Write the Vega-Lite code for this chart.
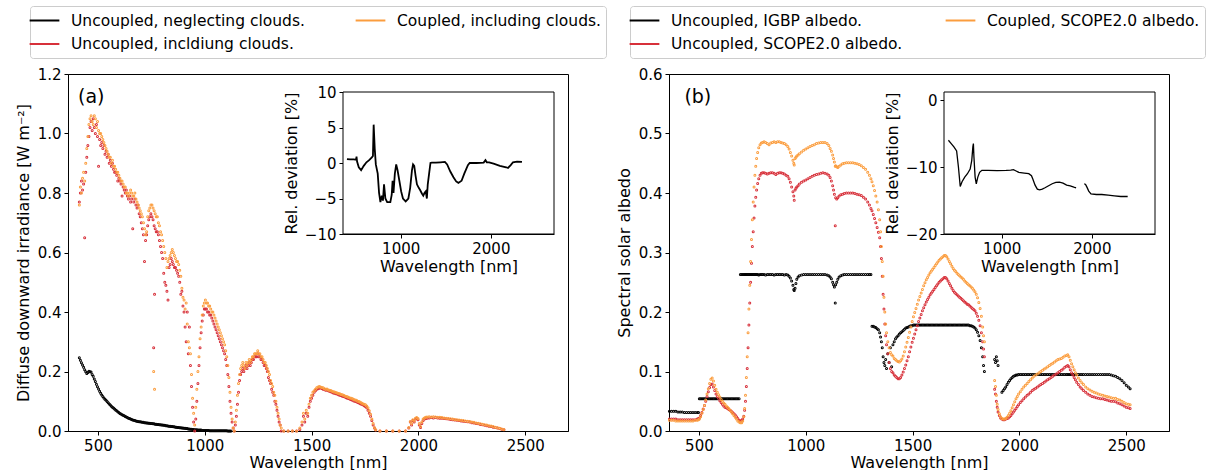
{
"$schema": "https://vega.github.io/schema/vega-lite/v6.json",
"padding": {"left": 14, "top": 5, "right": 0, "bottom": 0},
"config": {
 "font": "DejaVu Sans",
 "view": {"stroke": "#000000", "strokeWidth": 1},
 "axis": {"labelFont": "DejaVu Sans", "labelFontSize": 15, "labelColor": "#000000", "titleFont": "DejaVu Sans", "titleFontSize": 16, "titleFontWeight": "normal", "titleColor": "#000000", "tickColor": "#000000", "domainColor": "#000000", "tickSize": 4, "labelPadding": 3, "grid": false, "labelFlush": false, "labelOverlap": false},
 "legend": {"labelFont": "DejaVu Sans", "labelFontSize": 15.5, "labelColor": "#000000", "labelLimit": 500}
},
"datasets": {
"pa": [
{"w":413,"a":0.246,"b":0.77,"c":0.76},{"w":418,"a":0.238,"b":0.80,"c":0.82},{"w":423,"a":0.229,"b":0.84,"c":0.80},{"w":428,"a":0.222,"b":0.81,"c":0.85},{"w":433,"a":0.214,"b":0.83,"c":0.87},{"w":438,"a":0.206,"b":0.65,"c":0.84},{"w":443,"a":0.199,"b":0.87,"c":0.90},{"w":448,"a":0.193,"b":0.92,"c":0.95},{"w":453,"a":0.197,"b":0.96,"c":0.99},{"w":458,"a":0.201,"b":0.99,"c":1.03},{"w":463,"a":0.199,"b":1.02,"c":1.05},{"w":468,"a":0.198,"b":1.04,"c":1.06},{"w":473,"a":0.19,"b":1.01,"c":1.04},{"w":478,"a":0.184,"b":1.05,"c":1.03},{"w":483,"a":0.175,"b":1.02,"c":1.06},{"w":488,"a":0.166,"b":1.00,"c":1.05},{"w":493,"a":0.157,"b":1.03,"c":1.02},{"w":498,"a":0.149,"b":0.99,"c":1.04},{"w":503,"a":0.141,"b":0.89,"c":1.01},{"w":508,"a":0.134,"b":0.98,"c":1.00},{"w":513,"a":0.127,"b":0.96,"c":1.00},{"w":518,"a":0.121,"b":0.97,"c":0.99},{"w":523,"a":0.116,"b":0.95,"c":0.98},{"w":528,"a":0.111,"b":0.96,"c":0.97},{"w":533,"a":0.107,"b":0.93,"c":0.96},{"w":538,"a":0.103,"b":0.94,"c":0.95},{"w":543,"a":0.099,"b":0.92,"c":0.94},{"w":548,"a":0.095,"b":0.93,"c":0.93},{"w":553,"a":0.091,"b":0.90,"c":0.92},{"w":558,"a":0.087,"b":0.91,"c":0.92},{"w":563,"a":0.083,"b":0.89,"c":0.90},{"w":568,"a":0.08,"b":0.90,"c":0.91},{"w":573,"a":0.077,"b":0.88,"c":0.89},{"w":578,"a":0.074,"b":0.87,"c":0.89},{"w":583,"a":0.071,"b":0.87,"c":0.88},{"w":588,"a":0.068,"b":0.86,"c":0.87},{"w":593,"a":0.065,"b":0.84,"c":0.87},{"w":598,"a":0.062,"b":0.85,"c":0.86},{"w":603,"a":0.059,"b":0.84,"c":0.85},{"w":608,"a":0.057,"b":0.83,"c":0.84},{"w":613,"a":0.055,"b":0.79,"c":0.84},{"w":618,"a":0.053,"b":0.82,"c":0.83},{"w":623,"a":0.051,"b":0.81,"c":0.82},{"w":628,"a":0.049,"b":0.80,"c":0.82},{"w":633,"a":0.047,"b":0.81,"c":0.80},{"w":638,"a":0.045,"b":0.79,"c":0.80},{"w":643,"a":0.043,"b":0.78,"c":0.79},{"w":648,"a":0.042,"b":0.79,"c":0.80},{"w":653,"a":0.04,"b":0.77,"c":0.81},{"w":658,"a":0.039,"b":0.78,"c":0.80},{"w":663,"a":0.037,"b":0.68,"c":0.79},{"w":668,"a":0.036,"b":0.77,"c":0.79},{"w":673,"a":0.035,"b":0.78,"c":0.80},{"w":678,"a":0.034,"b":0.76,"c":0.78},{"w":683,"a":0.033,"b":0.75,"c":0.77},{"w":688,"a":0.032,"b":0.76,"c":0.76},{"w":693,"a":0.031,"b":0.73,"c":0.75},{"w":698,"a":0.031,"b":0.72,"c":0.74},{"w":703,"a":0.030,"b":0.70,"c":0.73},{"w":708,"a":0.029,"b":0.68,"c":0.72},{"w":713,"a":0.029,"b":0.66,"c":0.70},{"w":718,"a":0.028,"b":0.57,"c":0.68},{"w":723,"a":0.028,"b":0.64,"c":0.66},{"w":728,"a":0.027,"b":0.66,"c":0.67},{"w":733,"a":0.027,"b":0.69,"c":0.72},{"w":738,"a":0.026,"b":0.71,"c":0.74},{"w":743,"a":0.026,"b":0.72,"c":0.75},{"w":748,"a":0.025,"b":0.73,"c":0.76},{"w":753,"a":0.025,"b":0.72,"c":0.76},{"w":758,"a":0.024,"b":0.71,"c":0.75},{"w":761,"b":0.28,"c":0.20},{"w":763,"a":0.024,"b":0.69,"c":0.74},{"w":765,"b":0.46,"c":0.14},{"w":768,"a":0.023,"b":0.68,"c":0.73},{"w":773,"a":0.023,"b":0.67,"c":0.72},{"w":778,"a":0.022,"b":0.67,"c":0.72},{"w":783,"a":0.022,"b":0.66,"c":0.70},{"w":788,"a":0.021,"b":0.64,"c":0.69},{"w":793,"a":0.021,"b":0.62,"c":0.67},{"w":798,"a":0.020,"b":0.60,"c":0.66},{"w":803,"a":0.020,"b":0.58,"c":0.64},{"w":808,"a":0.019,"b":0.53,"c":0.62},{"w":813,"a":0.019,"b":0.50,"c":0.60},{"w":818,"a":0.018,"b":0.49,"c":0.58},{"w":823,"a":0.018,"b":0.47,"c":0.55},{"w":828,"a":0.017,"b":0.44,"c":0.57},{"w":833,"a":0.016,"b":0.55,"c":0.58},{"w":838,"a":0.016,"b":0.56,"c":0.59},{"w":843,"a":0.015,"b":0.58,"c":0.60},{"w":848,"a":0.015,"b":0.57,"c":0.61},{"w":853,"a":0.014,"b":0.56,"c":0.60},{"w":858,"a":0.014,"b":0.55,"c":0.59},{"w":863,"a":0.013,"b":0.55,"c":0.58},{"w":868,"a":0.013,"b":0.54,"c":0.57},{"w":873,"a":0.012,"b":0.53,"c":0.57},{"w":878,"a":0.012,"b":0.52,"c":0.56},{"w":883,"a":0.011,"b":0.50,"c":0.54},{"w":888,"a":0.011,"b":0.46,"c":0.52},{"w":893,"a":0.010,"b":0.47,"c":0.48},{"w":898,"a":0.010,"b":0.42,"c":0.45},{"w":903,"a":0.009,"b":0.40,"c":0.44},{"w":908,"a":0.009,"b":0.35,"c":0.41},{"w":913,"a":0.008,"b":0.30,"c":0.43},{"w":918,"a":0.008,"b":0.40,"c":0.36},{"w":923,"a":0.007,"b":0.26,"c":0.30},{"w":928,"a":0.007,"b":0.35,"c":0.28},{"w":933,"a":0.006,"b":0.22,"c":0.26},{"w":938,"a":0.006,"b":0.15,"c":0.19},{"w":943,"a":0.005,"b":0.08,"c":0.11},{"w":948,"a":0.005,"b":0.03,"c":0.06},{"w":953,"a":0.004,"b":0.00,"c":0.02},{"w":958,"a":0.004,"b":0.04,"c":0.08},{"w":963,"a":0.004,"b":0.10,"c":0.14},{"w":968,"a":0.003,"b":0.16,"c":0.20},{"w":973,"a":0.003,"b":0.22,"c":0.25},{"w":978,"a":0.003,"b":0.28,"c":0.31},{"w":983,"a":0.003,"b":0.33,"c":0.35},{"w":988,"a":0.002,"b":0.37,"c":0.39},{"w":993,"a":0.002,"b":0.39,"c":0.42},{"w":998,"a":0.002,"b":0.41,"c":0.43},{"w":1003,"a":0.002,"b":0.41,"c":0.44},{"w":1008,"a":0.002,"b":0.41,"c":0.43},{"w":1013,"a":0.002,"b":0.40,"c":0.43},{"w":1018,"a":0.002,"b":0.40,"c":0.42},{"w":1023,"a":0.001,"b":0.39,"c":0.42},{"w":1028,"a":0.001,"b":0.39,"c":0.41},{"w":1033,"a":0.001,"b":0.38,"c":0.40},{"w":1038,"a":0.001,"b":0.37,"c":0.40},{"w":1043,"a":0.001,"b":0.36,"c":0.39},{"w":1048,"a":0.001,"b":0.35,"c":0.38},{"w":1053,"a":0.001,"b":0.34,"c":0.37},{"w":1058,"a":0.001,"b":0.33,"c":0.36},{"w":1063,"a":0.001,"b":0.32,"c":0.35},{"w":1068,"a":0.001,"b":0.31,"c":0.34},{"w":1073,"a":0.001,"b":0.30,"c":0.33},{"w":1078,"a":0.001,"b":0.29,"c":0.32},{"w":1083,"a":0.001,"b":0.28,"c":0.31},{"w":1088,"a":0.001,"b":0.27,"c":0.30},{"w":1093,"a":0.001,"b":0.26,"c":0.29},{"w":1098,"a":0.001,"b":0.24,"c":0.27},{"w":1103,"a":0.001,"b":0.22,"c":0.25},{"w":1108,"a":0.0,"b":0.19,"c":0.22},{"w":1113,"a":0.0,"b":0.15,"c":0.18},{"w":1118,"a":0.0,"b":0.10,"c":0.13},{"w":1123,"a":0.0,"b":0.06,"c":0.08},{"w":1128,"b":0.03,"c":0.04},{"w":1133,"b":0.01,"c":0.01},{"w":1138,"b":0.00,"c":0.00},{"w":1143,"b":0.02,"c":0.03},{"w":1148,"b":0.05,"c":0.07},{"w":1153,"b":0.09,"c":0.12},{"w":1158,"b":0.13,"c":0.16},{"w":1163,"b":0.17,"c":0.19},{"w":1168,"b":0.19,"c":0.21},{"w":1173,"b":0.20,"c":0.22},{"w":1178,"b":0.21,"c":0.23},{"w":1183,"b":0.20,"c":0.22},{"w":1188,"b":0.21,"c":0.21},{"w":1193,"b":0.22,"c":0.23},{"w":1198,"b":0.21,"c":0.22},{"w":1203,"b":0.22,"c":0.23},{"w":1208,"b":0.23,"c":0.24},{"w":1213,"b":0.22,"c":0.23},{"w":1218,"b":0.23,"c":0.24},{"w":1223,"b":0.24,"c":0.25},{"w":1228,"b":0.24,"c":0.25},{"w":1233,"b":0.25,"c":0.26},{"w":1238,"b":0.25,"c":0.26},{"w":1243,"b":0.25,"c":0.26},{"w":1248,"b":0.26,"c":0.27},{"w":1253,"b":0.25,"c":0.26},{"w":1258,"b":0.25,"c":0.26},{"w":1263,"b":0.24,"c":0.25},{"w":1268,"b":0.24,"c":0.25},{"w":1273,"b":0.23,"c":0.24},{"w":1278,"b":0.22,"c":0.23},{"w":1283,"b":0.22,"c":0.23},{"w":1288,"b":0.21,"c":0.22},{"w":1293,"b":0.20,"c":0.21},{"w":1298,"b":0.18,"c":0.20},{"w":1303,"b":0.17,"c":0.19},{"w":1308,"b":0.16,"c":0.17},{"w":1313,"b":0.14,"c":0.16},{"w":1318,"b":0.13,"c":0.15},{"w":1323,"b":0.12,"c":0.13},{"w":1328,"b":0.10,"c":0.12},{"w":1333,"b":0.09,"c":0.10},{"w":1338,"b":0.07,"c":0.08},{"w":1343,"b":0.05,"c":0.06},{"w":1348,"b":0.03,"c":0.04},{"w":1353,"b":0.02,"c":0.02},{"w":1358,"b":0.00,"c":0.01},{"w":1370,"b":0,"c":0},{"w":1390,"b":0,"c":0},{"w":1410,"b":0,"c":0},{"w":1430,"b":0,"c":0},{"w":1445,"b":0.005,"c":0.01},{"w":1455,"b":0.02,"c":0.03},{"w":1462,"b":0.05,"c":0.06},{"w":1468,"b":0.03,"c":0.04},{"w":1475,"b":0.06,"c":0.07},{"w":1482,"b":0.05,"c":0.06},{"w":1488,"b":0.08,"c":0.09},{"w":1494,"b":0.10,"c":0.11},{"w":1500,"b":0.11,"c":0.12},{"w":1506,"b":0.12,"c":0.13},{"w":1512,"b":0.13,"c":0.135},{"w":1518,"b":0.135,"c":0.14},{"w":1524,"b":0.14,"c":0.145},{"w":1530,"b":0.142,"c":0.148},{"w":1536,"b":0.144,"c":0.15},{"w":1542,"b":0.145,"c":0.148},{"w":1548,"b":0.143,"c":0.146},{"w":1554,"b":0.14,"c":0.145},{"w":1560,"b":0.14,"c":0.142},{"w":1566,"b":0.137,"c":0.14},{"w":1572,"b":0.138,"c":0.141},{"w":1578,"b":0.135,"c":0.138},{"w":1584,"b":0.134,"c":0.137},{"w":1590,"b":0.132,"c":0.136},{"w":1596,"b":0.13,"c":0.134},{"w":1602,"b":0.128,"c":0.132},{"w":1608,"b":0.127,"c":0.131},{"w":1614,"b":0.125,"c":0.129},{"w":1620,"b":0.124,"c":0.128},{"w":1626,"b":0.122,"c":0.126},{"w":1632,"b":0.12,"c":0.125},{"w":1638,"b":0.119,"c":0.123},{"w":1644,"b":0.117,"c":0.122},{"w":1650,"b":0.116,"c":0.12},{"w":1656,"b":0.114,"c":0.118},{"w":1662,"b":0.112,"c":0.116},{"w":1668,"b":0.11,"c":0.115},{"w":1674,"b":0.109,"c":0.113},{"w":1680,"b":0.107,"c":0.111},{"w":1686,"b":0.105,"c":0.11},{"w":1692,"b":0.103,"c":0.108},{"w":1698,"b":0.101,"c":0.106},{"w":1704,"b":0.1,"c":0.104},{"w":1710,"b":0.098,"c":0.103},{"w":1716,"b":0.096,"c":0.1},{"w":1722,"b":0.094,"c":0.099},{"w":1728,"b":0.092,"c":0.097},{"w":1734,"b":0.09,"c":0.094},{"w":1740,"b":0.088,"c":0.092},{"w":1746,"b":0.085,"c":0.09},{"w":1752,"b":0.082,"c":0.088},{"w":1758,"b":0.078,"c":0.084},{"w":1764,"b":0.07,"c":0.078},{"w":1770,"b":0.06,"c":0.068},{"w":1776,"b":0.05,"c":0.056},{"w":1782,"b":0.035,"c":0.04},{"w":1788,"b":0.02,"c":0.025},{"w":1794,"b":0.01,"c":0.012},{"w":1800,"b":0.003,"c":0.004},{"w":1820,"b":0,"c":0},{"w":1850,"b":0,"c":0},{"w":1880,"b":0,"c":0},{"w":1910,"b":0,"c":0},{"w":1940,"b":0,"c":0},{"w":1955,"b":0.01,"c":0.012},{"w":1962,"b":0.03,"c":0.032},{"w":1968,"b":0.02,"c":0.025},{"w":1974,"b":0.035,"c":0.038},{"w":1980,"b":0.03,"c":0.034},{"w":1986,"b":0.04,"c":0.043},{"w":1992,"b":0.042,"c":0.045},{"w":1998,"b":0.038,"c":0.042},{"w":2004,"b":0.02,"c":0.025},{"w":2010,"b":0.012,"c":0.015},{"w":2016,"b":0.025,"c":0.03},{"w":2022,"b":0.035,"c":0.04},{"w":2028,"b":0.04,"c":0.044},{"w":2034,"b":0.042,"c":0.046},{"w":2040,"b":0.043,"c":0.047},{"w":2050,"b":0.044,"c":0.048},{"w":2060,"b":0.045,"c":0.047},{"w":2070,"b":0.044,"c":0.048},{"w":2080,"b":0.045,"c":0.047},{"w":2090,"b":0.044,"c":0.046},{"w":2100,"b":0.043,"c":0.046},{"w":2110,"b":0.043,"c":0.045},{"w":2120,"b":0.042,"c":0.044},{"w":2130,"b":0.041,"c":0.043},{"w":2140,"b":0.04,"c":0.042},{"w":2150,"b":0.039,"c":0.041},{"w":2160,"b":0.038,"c":0.04},{"w":2170,"b":0.037,"c":0.039},{"w":2180,"b":0.036,"c":0.038},{"w":2190,"b":0.035,"c":0.037},{"w":2200,"b":0.034,"c":0.036},{"w":2210,"b":0.033,"c":0.035},{"w":2220,"b":0.032,"c":0.034},{"w":2230,"b":0.031,"c":0.033},{"w":2240,"b":0.03,"c":0.032},{"w":2250,"b":0.028,"c":0.03},{"w":2260,"b":0.027,"c":0.029},{"w":2270,"b":0.025,"c":0.027},{"w":2280,"b":0.024,"c":0.026},{"w":2290,"b":0.022,"c":0.024},{"w":2300,"b":0.021,"c":0.023},{"w":2310,"b":0.019,"c":0.021},{"w":2320,"b":0.018,"c":0.02},{"w":2330,"b":0.016,"c":0.018},{"w":2340,"b":0.015,"c":0.017},{"w":2350,"b":0.013,"c":0.015},{"w":2360,"b":0.012,"c":0.013},{"w":2370,"b":0.01,"c":0.011},{"w":2380,"b":0.008,"c":0.009},{"w":2390,"b":0.006,"c":0.007},{"w":2400,"b":0.004,"c":0.005}
],
"pb": [
{"w":362,"a":0.033,"b":0.020,"c":0.018},{"w":372,"a":0.033,"b":0.020,"c":0.018},{"w":382,"a":0.033,"b":0.020,"c":0.018},{"w":392,"a":0.033,"b":0.020,"c":0.017},{"w":402,"a":0.032,"b":0.019,"c":0.017},{"w":412,"a":0.032,"b":0.019,"c":0.017},{"w":422,"a":0.032,"b":0.019,"c":0.017},{"w":432,"a":0.031,"b":0.019,"c":0.017},{"w":442,"a":0.031,"b":0.019,"c":0.017},{"w":452,"a":0.031,"b":0.019,"c":0.017},{"w":462,"a":0.031,"b":0.019,"c":0.017},{"w":472,"a":0.031,"b":0.019,"c":0.017},{"w":482,"a":0.031,"b":0.019,"c":0.018},{"w":492,"a":0.031,"b":0.020,"c":0.018},{"w":498,"a":0.031,"b":0.021,"c":0.019},
{"w":502,"a":0.054,"b":0.022,"c":0.020},{"w":508,"a":0.054,"b":0.026,"c":0.024},{"w":514,"a":0.054,"b":0.031,"c":0.030},{"w":520,"a":0.054,"b":0.037,"c":0.036},{"w":526,"a":0.054,"b":0.043,"c":0.043},{"w":532,"a":0.054,"b":0.050,"c":0.052},{"w":538,"a":0.054,"b":0.058,"c":0.062},{"w":544,"a":0.054,"b":0.066,"c":0.071},{"w":550,"a":0.054,"b":0.073,"c":0.080},{"w":556,"a":0.054,"b":0.078,"c":0.087},{"w":562,"a":0.054,"b":0.079,"c":0.089},{"w":568,"a":0.054,"b":0.074,"c":0.084},{"w":574,"a":0.054,"b":0.068,"c":0.077},{"w":580,"a":0.054,"b":0.062,"c":0.070},{"w":586,"a":0.054,"b":0.058,"c":0.065},{"w":592,"a":0.054,"b":0.055,"c":0.061},{"w":598,"a":0.054,"b":0.051,"c":0.057},{"w":604,"a":0.054,"b":0.048,"c":0.053},{"w":610,"a":0.054,"b":0.045,"c":0.050},{"w":616,"a":0.054,"b":0.042,"c":0.047},{"w":622,"a":0.054,"b":0.040,"c":0.045},{"w":628,"a":0.054,"b":0.039,"c":0.042},{"w":634,"a":0.054,"b":0.038,"c":0.040},{"w":640,"a":0.054,"b":0.036,"c":0.038},{"w":646,"a":0.054,"b":0.035,"c":0.035},{"w":652,"a":0.054,"b":0.033,"c":0.032},{"w":658,"a":0.054,"b":0.031,"c":0.029},{"w":664,"a":0.054,"b":0.029,"c":0.026},{"w":670,"a":0.054,"b":0.027,"c":0.023},{"w":676,"a":0.054,"b":0.024,"c":0.020},{"w":682,"a":0.054,"b":0.021,"c":0.017},{"w":688,"a":0.054,"b":0.018,"c":0.015},
{"w":694,"a":0.263,"b":0.017,"c":0.014},{"w":700,"a":0.263,"b":0.018,"c":0.014},{"w":705,"a":0.263,"b":0.020,"c":0.017},{"w":710,"a":0.263,"b":0.025,"c":0.024},{"w":714,"a":0.263,"b":0.035,"c":0.038},{"w":718,"a":0.263,"b":0.050,"c":0.060},{"w":722,"a":0.263,"b":0.075,"c":0.090},{"w":726,"a":0.263,"b":0.105,"c":0.125},{"w":730,"a":0.263,"b":0.140,"c":0.165},{"w":734,"a":0.263,"b":0.178,"c":0.205},{"w":738,"a":0.263,"b":0.215,"c":0.245},{"w":742,"a":0.263,"b":0.250,"c":0.285},{"w":746,"a":0.263,"b":0.282,"c":0.322},{"w":750,"a":0.263,"b":0.310,"c":0.355},{"w":754,"a":0.263,"b":0.335,"c":0.385},{"w":758,"a":0.263,"b":0.358,"c":0.410},{"w":762,"a":0.263,"b":0.378,"c":0.430},{"w":766,"a":0.263,"b":0.393,"c":0.445},{"w":770,"a":0.263,"b":0.405,"c":0.458},{"w":775,"a":0.263,"b":0.416,"c":0.468},{"w":780,"a":0.262,"b":0.424,"c":0.476},{"w":786,"a":0.263,"b":0.430,"c":0.481},{"w":792,"a":0.263,"b":0.433,"c":0.484},{"w":798,"a":0.263,"b":0.434,"c":0.485},{"w":805,"a":0.263,"b":0.434,"c":0.486},{"w":812,"a":0.262,"b":0.433,"c":0.485},{"w":820,"a":0.263,"b":0.432,"c":0.483},{"w":828,"a":0.263,"b":0.433,"c":0.481},{"w":836,"a":0.263,"b":0.434,"c":0.484},{"w":844,"a":0.263,"b":0.434,"c":0.485},{"w":852,"a":0.262,"b":0.433,"c":0.486},{"w":860,"a":0.263,"b":0.431,"c":0.485},{"w":868,"a":0.263,"b":0.433,"c":0.486},{"w":876,"a":0.263,"b":0.434,"c":0.486},{"w":884,"a":0.263,"b":0.434,"c":0.485},{"w":892,"a":0.263,"b":0.433,"c":0.484},{"w":900,"a":0.262,"b":0.432,"c":0.483},{"w":908,"a":0.263,"b":0.430,"c":0.481},{"w":916,"a":0.262,"b":0.428,"c":0.478},{"w":922,"a":0.260,"b":0.424,"c":0.474},{"w":928,"a":0.257,"b":0.418,"c":0.468},{"w":934,"a":0.252,"b":0.410,"c":0.462},{"w":940,"a":0.245,"b":0.402,"c":0.455},{"w":944,"a":0.238,"b":0.395,"c":0.450},{"w":946,"a":0.236,"b":0.388,"c":0.447},{"w":950,"a":0.240,"b":0.405,"c":0.458},{"w":954,"a":0.248,"b":0.408,"c":0.460},{"w":958,"a":0.255,"b":0.410,"c":0.462},{"w":964,"a":0.259,"b":0.412,"c":0.464},{"w":970,"a":0.261,"b":0.415,"c":0.466},{"w":980,"a":0.262,"b":0.418,"c":0.469},{"w":990,"a":0.263,"b":0.420,"c":0.472},{"w":1000,"a":0.263,"b":0.422,"c":0.474},{"w":1010,"a":0.263,"b":0.424,"c":0.476},{"w":1020,"a":0.263,"b":0.426,"c":0.478},{"w":1030,"a":0.263,"b":0.428,"c":0.480},{"w":1040,"a":0.263,"b":0.430,"c":0.481},{"w":1050,"a":0.263,"b":0.431,"c":0.483},{"w":1060,"a":0.263,"b":0.432,"c":0.484},{"w":1070,"a":0.263,"b":0.433,"c":0.485},{"w":1080,"a":0.263,"b":0.434,"c":0.485},{"w":1090,"a":0.263,"b":0.433,"c":0.485},{"w":1100,"a":0.262,"b":0.432,"c":0.483},{"w":1108,"a":0.261,"b":0.430,"c":0.480},{"w":1114,"a":0.259,"b":0.426,"c":0.475},{"w":1120,"a":0.256,"b":0.420,"c":0.470},{"w":1126,"a":0.250,"b":0.412,"c":0.464},{"w":1130,"a":0.246,"b":0.405,"c":0.458},{"w":1134,"a":0.242,"b":0.398,"c":0.452},{"w":1138,"a":0.215,"b":0.345,"c":0.445},{"w":1140,"a":0.246,"b":0.392,"c":0.446},{"w":1145,"a":0.250,"b":0.390,"c":0.444},{"w":1150,"a":0.255,"b":0.392,"c":0.443},{"w":1156,"a":0.259,"b":0.395,"c":0.445},{"w":1164,"a":0.261,"b":0.397,"c":0.447},{"w":1172,"a":0.262,"b":0.398,"c":0.449},{"w":1180,"a":0.263,"b":0.399,"c":0.450},{"w":1190,"a":0.263,"b":0.400,"c":0.451},{"w":1200,"a":0.263,"b":0.400,"c":0.451},{"w":1210,"a":0.263,"b":0.400,"c":0.451},{"w":1220,"a":0.263,"b":0.400,"c":0.451},{"w":1230,"a":0.263,"b":0.399,"c":0.450},{"w":1240,"a":0.263,"b":0.398,"c":0.449},{"w":1250,"a":0.263,"b":0.397,"c":0.448},{"w":1260,"a":0.263,"b":0.396,"c":0.446},{"w":1270,"a":0.263,"b":0.393,"c":0.443},{"w":1280,"a":0.263,"b":0.390,"c":0.440},{"w":1290,"a":0.263,"b":0.385,"c":0.435},{"w":1298,"a":0.263,"b":0.380,"c":0.430},{"w":1305,"a":0.263,"b":0.374,"c":0.424},
{"w":1310,"a":0.176,"b":0.370,"c":0.419},{"w":1316,"a":0.176,"b":0.364,"c":0.412},{"w":1322,"a":0.175,"b":0.357,"c":0.404},{"w":1328,"a":0.174,"b":0.350,"c":0.395},{"w":1334,"a":0.172,"b":0.342,"c":0.385},{"w":1340,"a":0.170,"b":0.334,"c":0.372},{"w":1346,"a":0.165,"b":0.325,"c":0.355},{"w":1350,"a":0.158,"b":0.310,"c":0.335},{"w":1354,"a":0.150,"b":0.290,"c":0.310},{"w":1358,"a":0.140,"b":0.260,"c":0.285},{"w":1362,"a":0.125,"b":0.230,"c":0.260},{"w":1366,"a":0.115,"b":0.205,"c":0.225},{"w":1370,"a":0.110,"b":0.180,"c":0.200},{"w":1374,"a":0.120,"b":0.160,"c":0.180},{"w":1378,"a":0.105,"b":0.145,"c":0.165},{"w":1384,"a":0.130,"b":0.130,"c":0.150},{"w":1390,"a":0.115,"b":0.115,"c":0.140},{"w":1396,"a":0.140,"b":0.105,"c":0.132},{"w":1402,"a":0.108,"b":0.100,"c":0.128},{"w":1408,"a":0.145,"b":0.098,"c":0.126},{"w":1414,"a":0.150,"b":0.094,"c":0.122},{"w":1420,"a":0.155,"b":0.092,"c":0.120},{"w":1426,"a":0.158,"b":0.090,"c":0.118},{"w":1432,"a":0.160,"b":0.088,"c":0.117},{"w":1438,"a":0.163,"b":0.088,"c":0.116},{"w":1444,"a":0.165,"b":0.090,"c":0.118},{"w":1450,"a":0.167,"b":0.094,"c":0.121},{"w":1456,"a":0.169,"b":0.099,"c":0.126},{"w":1462,"a":0.171,"b":0.105,"c":0.133},{"w":1468,"a":0.173,"b":0.111,"c":0.141},{"w":1474,"a":0.174,"b":0.118,"c":0.149},{"w":1480,"a":0.175,"b":0.125,"c":0.157},{"w":1486,"a":0.176,"b":0.133,"c":0.166},{"w":1492,"a":0.177,"b":0.141,"c":0.175},{"w":1498,"a":0.177,"b":0.149,"c":0.184},{"w":1504,"a":0.178,"b":0.156,"c":0.192},{"w":1510,"a":0.178,"b":0.163,"c":0.199},{"w":1516,"a":0.178,"b":0.170,"c":0.206},{"w":1522,"a":0.178,"b":0.177,"c":0.213},{"w":1528,"a":0.178,"b":0.184,"c":0.220},{"w":1534,"a":0.178,"b":0.190,"c":0.226},{"w":1540,"a":0.178,"b":0.196,"c":0.232},{"w":1546,"a":0.178,"b":0.202,"c":0.238},{"w":1552,"a":0.178,"b":0.207,"c":0.244},{"w":1558,"a":0.178,"b":0.212,"c":0.249},{"w":1564,"a":0.178,"b":0.217,"c":0.254},{"w":1570,"a":0.178,"b":0.221,"c":0.258},{"w":1576,"a":0.178,"b":0.225,"c":0.262},{"w":1582,"a":0.178,"b":0.229,"c":0.266},{"w":1588,"a":0.178,"b":0.232,"c":0.269},{"w":1594,"a":0.178,"b":0.235,"c":0.272},{"w":1600,"a":0.178,"b":0.238,"c":0.275},{"w":1606,"a":0.178,"b":0.241,"c":0.278},{"w":1612,"a":0.178,"b":0.244,"c":0.281},{"w":1618,"a":0.178,"b":0.247,"c":0.284},{"w":1624,"a":0.178,"b":0.250,"c":0.287},{"w":1630,"a":0.178,"b":0.252,"c":0.289},{"w":1636,"a":0.178,"b":0.254,"c":0.291},{"w":1642,"a":0.178,"b":0.256,"c":0.293},{"w":1648,"a":0.178,"b":0.258,"c":0.295},{"w":1654,"a":0.178,"b":0.258,"c":0.295},{"w":1660,"a":0.178,"b":0.256,"c":0.293},{"w":1666,"a":0.178,"b":0.252,"c":0.289},{"w":1672,"a":0.178,"b":0.248,"c":0.285},{"w":1678,"a":0.178,"b":0.244,"c":0.281},{"w":1684,"a":0.178,"b":0.240,"c":0.277},{"w":1690,"a":0.178,"b":0.236,"c":0.273},{"w":1696,"a":0.178,"b":0.233,"c":0.270},{"w":1702,"a":0.178,"b":0.231,"c":0.268},{"w":1708,"a":0.178,"b":0.229,"c":0.265},{"w":1714,"a":0.178,"b":0.227,"c":0.263},{"w":1720,"a":0.178,"b":0.225,"c":0.261},{"w":1726,"a":0.178,"b":0.223,"c":0.259},{"w":1732,"a":0.178,"b":0.221,"c":0.257},{"w":1738,"a":0.178,"b":0.219,"c":0.255},{"w":1744,"a":0.178,"b":0.217,"c":0.252},{"w":1750,"a":0.178,"b":0.215,"c":0.250},{"w":1756,"a":0.178,"b":0.213,"c":0.248},{"w":1762,"a":0.178,"b":0.212,"c":0.246},{"w":1768,"a":0.177,"b":0.210,"c":0.244},{"w":1774,"a":0.177,"b":0.208,"c":0.242},{"w":1780,"a":0.176,"b":0.206,"c":0.240},{"w":1786,"a":0.175,"b":0.204,"c":0.237},{"w":1792,"a":0.173,"b":0.202,"c":0.234},{"w":1798,"a":0.170,"b":0.198,"c":0.230},{"w":1804,"a":0.166,"b":0.193,"c":0.224},{"w":1810,"a":0.160,"b":0.186,"c":0.216},{"w":1816,"a":0.152,"b":0.177,"c":0.206},{"w":1822,"a":0.140,"b":0.165,"c":0.193},{"w":1828,"a":0.125,"b":0.150,"c":0.175},{"w":1832,"a":0.110,"b":0.138,"c":0.160},{"w":1836,"a":0.100,"b":0.125,"c":0.150},
{"w":1884,"a":0.120,"b":0.070,"c":0.085},{"w":1888,"a":0.115,"b":0.062,"c":0.075},{"w":1892,"a":0.125,"b":0.050,"c":0.060},{"w":1896,"a":0.118,"b":0.040,"c":0.045},{"w":1900,"a":0.110,"b":0.032,"c":0.036},{"w":1906,"b":0.026,"c":0.029},{"w":1912,"b":0.022,"c":0.024},{"w":1918,"a":0.065,"b":0.020,"c":0.021},{"w":1924,"a":0.068,"b":0.019,"c":0.020},{"w":1930,"a":0.071,"b":0.019,"c":0.020},{"w":1936,"a":0.074,"b":0.020,"c":0.021},{"w":1942,"a":0.078,"b":0.021,"c":0.023},{"w":1948,"a":0.082,"b":0.022,"c":0.026},{"w":1954,"a":0.085,"b":0.024,"c":0.030},{"w":1960,"a":0.088,"b":0.026,"c":0.034},{"w":1966,"a":0.090,"b":0.029,"c":0.039},{"w":1972,"a":0.092,"b":0.032,"c":0.044},{"w":1978,"a":0.093,"b":0.035,"c":0.049},{"w":1984,"a":0.094,"b":0.038,"c":0.054},{"w":1990,"a":0.094,"b":0.041,"c":0.058},{"w":1996,"a":0.095,"b":0.044,"c":0.062},{"w":2004,"a":0.095,"b":0.048,"c":0.066},{"w":2012,"a":0.095,"b":0.051,"c":0.070},{"w":2020,"a":0.095,"b":0.054,"c":0.074},{"w":2028,"a":0.095,"b":0.057,"c":0.077},{"w":2036,"a":0.095,"b":0.060,"c":0.080},{"w":2044,"a":0.095,"b":0.062,"c":0.083},{"w":2052,"a":0.095,"b":0.065,"c":0.086},{"w":2060,"a":0.095,"b":0.068,"c":0.089},{"w":2068,"a":0.095,"b":0.070,"c":0.092},{"w":2076,"a":0.095,"b":0.072,"c":0.094},{"w":2084,"a":0.095,"b":0.074,"c":0.096},{"w":2092,"a":0.095,"b":0.076,"c":0.098},{"w":2100,"a":0.095,"b":0.078,"c":0.100},{"w":2108,"a":0.095,"b":0.080,"c":0.102},{"w":2116,"a":0.095,"b":0.082,"c":0.104},{"w":2124,"a":0.095,"b":0.084,"c":0.106},{"w":2132,"a":0.095,"b":0.086,"c":0.108},{"w":2140,"a":0.095,"b":0.088,"c":0.110},{"w":2148,"a":0.095,"b":0.090,"c":0.112},{"w":2156,"a":0.095,"b":0.092,"c":0.114},{"w":2164,"a":0.095,"b":0.094,"c":0.116},{"w":2172,"a":0.095,"b":0.096,"c":0.118},{"w":2180,"a":0.095,"b":0.098,"c":0.120},{"w":2188,"a":0.095,"b":0.100,"c":0.121},{"w":2196,"a":0.095,"b":0.102,"c":0.122},{"w":2204,"a":0.095,"b":0.104,"c":0.124},{"w":2212,"a":0.095,"b":0.107,"c":0.126},{"w":2220,"a":0.095,"b":0.109,"c":0.127},{"w":2226,"a":0.095,"b":0.110,"c":0.128},{"w":2232,"a":0.095,"b":0.108,"c":0.125},{"w":2238,"a":0.095,"b":0.103,"c":0.119},{"w":2244,"a":0.095,"b":0.098,"c":0.113},{"w":2250,"a":0.095,"b":0.094,"c":0.108},{"w":2256,"a":0.095,"b":0.090,"c":0.103},{"w":2262,"a":0.095,"b":0.086,"c":0.098},{"w":2268,"a":0.095,"b":0.082,"c":0.094},{"w":2276,"a":0.095,"b":0.078,"c":0.089},{"w":2284,"a":0.095,"b":0.074,"c":0.085},{"w":2292,"a":0.095,"b":0.071,"c":0.081},{"w":2300,"a":0.095,"b":0.068,"c":0.078},{"w":2310,"a":0.095,"b":0.065,"c":0.074},{"w":2320,"a":0.095,"b":0.062,"c":0.071},{"w":2330,"a":0.095,"b":0.060,"c":0.069},{"w":2340,"a":0.095,"b":0.058,"c":0.067},{"w":2350,"a":0.095,"b":0.057,"c":0.065},{"w":2360,"a":0.095,"b":0.056,"c":0.064},{"w":2370,"a":0.095,"b":0.055,"c":0.062},{"w":2380,"a":0.095,"b":0.054,"c":0.061},{"w":2390,"a":0.095,"b":0.054,"c":0.060},{"w":2400,"a":0.095,"b":0.053,"c":0.059},{"w":2410,"a":0.095,"b":0.052,"c":0.058},{"w":2420,"a":0.095,"b":0.051,"c":0.057},{"w":2430,"a":0.094,"b":0.050,"c":0.056},{"w":2440,"a":0.093,"b":0.050,"c":0.055},{"w":2450,"a":0.092,"b":0.049,"c":0.055},{"w":2460,"a":0.090,"b":0.047,"c":0.053},{"w":2470,"a":0.088,"b":0.046,"c":0.052},{"w":2480,"a":0.085,"b":0.044,"c":0.050},{"w":2490,"a":0.081,"b":0.042,"c":0.048},{"w":2500,"a":0.077,"b":0.040,"c":0.046},{"w":2510,"a":0.074,"b":0.039,"c":0.045},{"w":2518,"a":0.071,"b":0.038,"c":0.044}
],
"ia": [
{"w":404,"d":0.55},{"w":440,"d":0.5},{"w":480,"d":0.5},{"w":505,"d":0.45},{"w":510,"d":0.9},{"w":516,"d":0.2},{"w":535,"d":-0.6},{"w":561,"d":-1.0},{"w":590,"d":-0.4},{"w":620,"d":0.1},{"w":650,"d":0.4},{"w":680,"d":0.8},{"w":692,"d":1.0},{"w":700,"d":5.4},{"w":712,"d":2.0},{"w":724,"d":-0.2},{"w":745,"d":-1.5},{"w":760,"d":-4.2},{"w":775,"d":-5.5},{"w":790,"d":-4.6},{"w":803,"d":-5.3},{"w":815,"d":-3.0},{"w":830,"d":-5.0},{"w":850,"d":-5.5},{"w":885,"d":-5.5},{"w":900,"d":-4.5},{"w":910,"d":-2.5},{"w":920,"d":-4.2},{"w":935,"d":-1.5},{"w":950,"d":-0.2},{"w":965,"d":-1.0},{"w":985,"d":-2.5},{"w":1005,"d":-4.0},{"w":1025,"d":-5.0},{"w":1055,"d":-5.4},{"w":1085,"d":-5.0},{"w":1105,"d":-3.5},{"w":1125,"d":-1.0},{"w":1137,"d":-0.2},{"w":1150,"d":-0.4},{"w":1165,"d":-1.8},{"w":1180,"d":-3.0},{"w":1200,"d":-3.5},{"w":1215,"d":-3.8},{"w":1235,"d":-4.3},{"w":1250,"d":-4.6},{"w":1265,"d":-4.2},{"w":1278,"d":-4.0},{"w":1290,"d":-5.0},{"w":1300,"d":-3.0},{"w":1315,"d":-1.5},{"w":1330,"d":0.0},{"w":1345,"d":0.05},{"w":1390,"d":0.05},{"w":1440,"d":0.1},{"w":1490,"d":0.15},{"w":1515,"d":-0.2},{"w":1550,"d":-1.2},{"w":1585,"d":-2.0},{"w":1615,"d":-2.6},{"w":1640,"d":-2.8},{"w":1675,"d":-2.5},{"w":1705,"d":-1.5},{"w":1745,"d":-0.3},{"w":1765,"d":0.0},{"w":1840,"d":0.0},{"w":1920,"d":0.05},{"w":1940,"d":0.4},{"w":1955,"d":0.1},{"w":1980,"d":0.1},{"w":2030,"d":-0.1},{"w":2100,"d":-0.4},{"w":2170,"d":-0.6},{"w":2190,"d":-0.7},{"w":2220,"d":-0.3},{"w":2245,"d":0.1},{"w":2290,"d":0.2},{"w":2345,"d":0.15}
],
"ib": [
{"w":409,"d":-6.0,"g":1},{"w":440,"d":-6.5,"g":1},{"w":470,"d":-7.0,"g":1},{"w":500,"d":-7.6,"g":1},{"w":520,"d":-10.0,"g":1},{"w":540,"d":-12.9,"g":1},{"w":560,"d":-12.2,"g":1},{"w":590,"d":-11.5,"g":1},{"w":620,"d":-11.0,"g":1},{"w":650,"d":-10.3,"g":1},{"w":668,"d":-9.0,"g":1},{"w":680,"d":-7.0,"g":1},{"w":686,"d":-6.5,"g":1},{"w":692,"d":-8.5,"g":1},{"w":705,"d":-11.5,"g":1},{"w":718,"d":-12.5,"g":1},{"w":735,"d":-11.5,"g":1},{"w":755,"d":-10.8,"g":1},{"w":780,"d":-10.5,"g":1},{"w":850,"d":-10.5,"g":1},{"w":950,"d":-10.55,"g":1},{"w":1050,"d":-10.5,"g":1},{"w":1100,"d":-10.45,"g":1},{"w":1130,"d":-10.4,"g":1},{"w":1160,"d":-10.6,"g":1},{"w":1190,"d":-10.8,"g":1},{"w":1250,"d":-10.9,"g":1},{"w":1300,"d":-11.0,"g":1},{"w":1330,"d":-11.3,"g":1},{"w":1345,"d":-11.8,"g":1},{"w":1370,"d":-12.7,"g":1},{"w":1395,"d":-13.3,"g":1},{"w":1420,"d":-13.4,"g":1},{"w":1450,"d":-13.3,"g":1},{"w":1480,"d":-13.1,"g":1},{"w":1520,"d":-12.8,"g":1},{"w":1560,"d":-12.5,"g":1},{"w":1600,"d":-12.3,"g":1},{"w":1640,"d":-12.25,"g":1},{"w":1680,"d":-12.4,"g":1},{"w":1720,"d":-12.7,"g":1},{"w":1760,"d":-12.8,"g":1},{"w":1800,"d":-13.0,"g":1},{"w":1825,"d":-13.1,"g":1},
{"w":1915,"d":-12.5,"g":2},{"w":1930,"d":-12.6,"g":2},{"w":1945,"d":-13.0,"g":2},{"w":1965,"d":-13.6,"g":2},{"w":1990,"d":-14.0,"g":2},{"w":2050,"d":-14.1,"g":2},{"w":2110,"d":-14.1,"g":2},{"w":2180,"d":-14.2,"g":2},{"w":2250,"d":-14.3,"g":2},{"w":2320,"d":-14.4,"g":2},{"w":2397,"d":-14.4,"g":2}
]
},
"spacing": 8,
"resolve": {"scale": {"color": "independent"}, "legend": {"color": "independent"}},
"hconcat": [
{
 "width": 500, "height": 357,
 "resolve": {"scale": {"x": "independent", "y": "independent"}, "axis": {"x": "independent", "y": "independent"}},
 "layer": [
  {"layer": [
   {"data": {"name": "pa"},
    "transform": [{"fold": ["a", "b", "c"], "as": ["s", "v"]}, {"filter": "isValid(datum.v)"}],
    "mark": {"type": "point", "filled": false, "size": 1, "strokeWidth": 2, "opacity": 1},
    "encoding": {
     "x": {"field": "w", "type": "quantitative", "scale": {"domain": [360, 2700], "nice": false, "zero": false}, "axis": {"orient": "bottom", "values": [500, 1000, 1500, 2000, 2500], "format": "d", "title": "Wavelength [nm]", "titlePadding": 1, "labelPadding": 3}},
     "y": {"field": "v", "type": "quantitative", "scale": {"domain": [0, 1.2], "nice": false, "zero": false}, "axis": {"orient": "left", "values": [0, 0.2, 0.4, 0.6, 0.8, 1.0, 1.2], "format": ".1f", "title": "Diffuse downward irradiance [W m⁻²]", "titlePadding": 6}},
     "color": {"field": "s", "type": "nominal", "scale": {"domain": ["a", "b", "c"], "range": ["#000000", "#d7303a", "#fb9d3e"]},
      "legend": {"title": null, "values": ["a", "b", "c"], "orient": "none", "legendX": -38, "legendY": -68, "columns": 2, "symbolType": "M-1.75,0H1.75", "symbolSize": 289, "symbolStrokeWidth": 2, "labelOffset": 17, "columnPadding": 46, "rowPadding": 5.5, "padding": 5, "strokeColor": "#cccccc", "fillColor": "#ffffff", "cornerRadius": 3,
       "labelExpr": "datum.label == 'a' ? 'Uncoupled, neglecting clouds.' : datum.label == 'b' ? 'Uncoupled, incldiung clouds.' : 'Coupled, including clouds.'"}},
     "order": {"field": "s", "sort": "ascending"}
    }},
   {"data": {"values": [{"t": "(a)"}]},
    "mark": {"type": "text", "fontSize": 19, "align": "left", "baseline": "alphabetic", "font": "DejaVu Sans", "color": "#000000"},
    "encoding": {"x": {"datum": 407, "type": "quantitative"}, "y": {"datum": 1.103, "type": "quantitative"}, "text": {"field": "t"}}}
  ]},
  {"layer": [
   {"data": {"values": [{"x0": 360, "x1": 2700, "y0": -10, "y1": 10}]},
    "mark": {"type": "rect", "fill": "#ffffff", "stroke": "#000000", "strokeWidth": 1},
    "encoding": {
     "x": {"field": "x0", "type": "quantitative", "scale": {"domain": [360, 2700], "range": [275, 486], "nice": false, "zero": false}, "axis": {"orient": "bottom", "offset": -197, "values": [1000, 2000], "format": "d", "title": "Wavelength [nm]", "titlePadding": 2}},
     "x2": {"field": "x1"},
     "y": {"field": "y0", "type": "quantitative", "scale": {"domain": [-10, 10], "range": [160, 18], "nice": false, "zero": false}, "axis": {"orient": "left", "offset": -275, "values": [-10, -5, 0, 5, 10], "title": "Rel. deviation [%]", "titlePadding": 5}},
     "y2": {"field": "y1"}
    }},
   {"data": {"name": "ia"},
    "mark": {"type": "line", "color": "#000000", "strokeWidth": 1.8},
    "encoding": {"x": {"field": "w", "type": "quantitative"}, "y": {"field": "d", "type": "quantitative"}}}
  ]}
 ]
},
{
 "width": 500, "height": 357,
 "resolve": {"scale": {"x": "independent", "y": "independent"}, "axis": {"x": "independent", "y": "independent"}},
 "layer": [
  {"layer": [
   {"data": {"name": "pb"},
    "transform": [{"fold": ["a", "b", "c"], "as": ["s", "v"]}, {"filter": "isValid(datum.v)"}],
    "mark": {"type": "point", "filled": false, "size": 1, "strokeWidth": 2, "opacity": 1},
    "encoding": {
     "x": {"field": "w", "type": "quantitative", "scale": {"domain": [360, 2700], "nice": false, "zero": false}, "axis": {"orient": "bottom", "values": [500, 1000, 1500, 2000, 2500], "format": "d", "title": "Wavelength [nm]", "titlePadding": 1, "labelPadding": 3}},
     "y": {"field": "v", "type": "quantitative", "scale": {"domain": [0, 0.6], "nice": false, "zero": false}, "axis": {"orient": "left", "values": [0, 0.1, 0.2, 0.3, 0.4, 0.5, 0.6], "format": ".1f", "title": "Spectral solar albedo", "titlePadding": 6}},
     "color": {"field": "s", "type": "nominal", "scale": {"domain": ["a", "b", "c"], "range": ["#000000", "#d7303a", "#fb9d3e"]},
      "legend": {"title": null, "values": ["a", "b", "c"], "orient": "none", "legendX": -39, "legendY": -68, "columns": 2, "symbolType": "M-1.75,0H1.75", "symbolSize": 289, "symbolStrokeWidth": 2, "labelOffset": 17, "columnPadding": 38, "rowPadding": 5.5, "padding": 5, "strokeColor": "#cccccc", "fillColor": "#ffffff", "cornerRadius": 3,
       "labelExpr": "datum.label == 'a' ? 'Uncoupled, IGBP albedo.' : datum.label == 'b' ? 'Uncoupled, SCOPE2.0 albedo.' : 'Coupled, SCOPE2.0 albedo.'"}},
     "order": {"field": "s", "sort": "ascending"}
    }},
   {"data": {"values": [{"t": "(b)"}]},
    "mark": {"type": "text", "fontSize": 19, "align": "left", "baseline": "alphabetic", "font": "DejaVu Sans", "color": "#000000"},
    "encoding": {"x": {"datum": 432, "type": "quantitative"}, "y": {"datum": 0.551, "type": "quantitative"}, "text": {"field": "t"}}}
  ]},
  {"layer": [
   {"data": {"values": [{"x0": 360, "x1": 2700, "y0": -20, "y1": 1.2}]},
    "mark": {"type": "rect", "fill": "#ffffff", "stroke": "#000000", "strokeWidth": 1},
    "encoding": {
     "x": {"field": "x0", "type": "quantitative", "scale": {"domain": [360, 2700], "range": [275, 486], "nice": false, "zero": false}, "axis": {"orient": "bottom", "offset": -197, "values": [1000, 2000], "format": "d", "title": "Wavelength [nm]", "titlePadding": 2}},
     "x2": {"field": "x1"},
     "y": {"field": "y0", "type": "quantitative", "scale": {"domain": [-20, 1.2], "range": [160, 18], "nice": false, "zero": false}, "axis": {"orient": "left", "offset": -275, "values": [-20, -10, 0], "title": "Rel. deviation [%]", "titlePadding": 5}},
     "y2": {"field": "y1"}
    }},
   {"data": {"name": "ib"},
    "mark": {"type": "line", "color": "#000000", "strokeWidth": 1.3},
    "encoding": {"x": {"field": "w", "type": "quantitative"}, "y": {"field": "d", "type": "quantitative"}, "detail": {"field": "g", "type": "nominal"}}}
  ]}
 ]
}
]
}
